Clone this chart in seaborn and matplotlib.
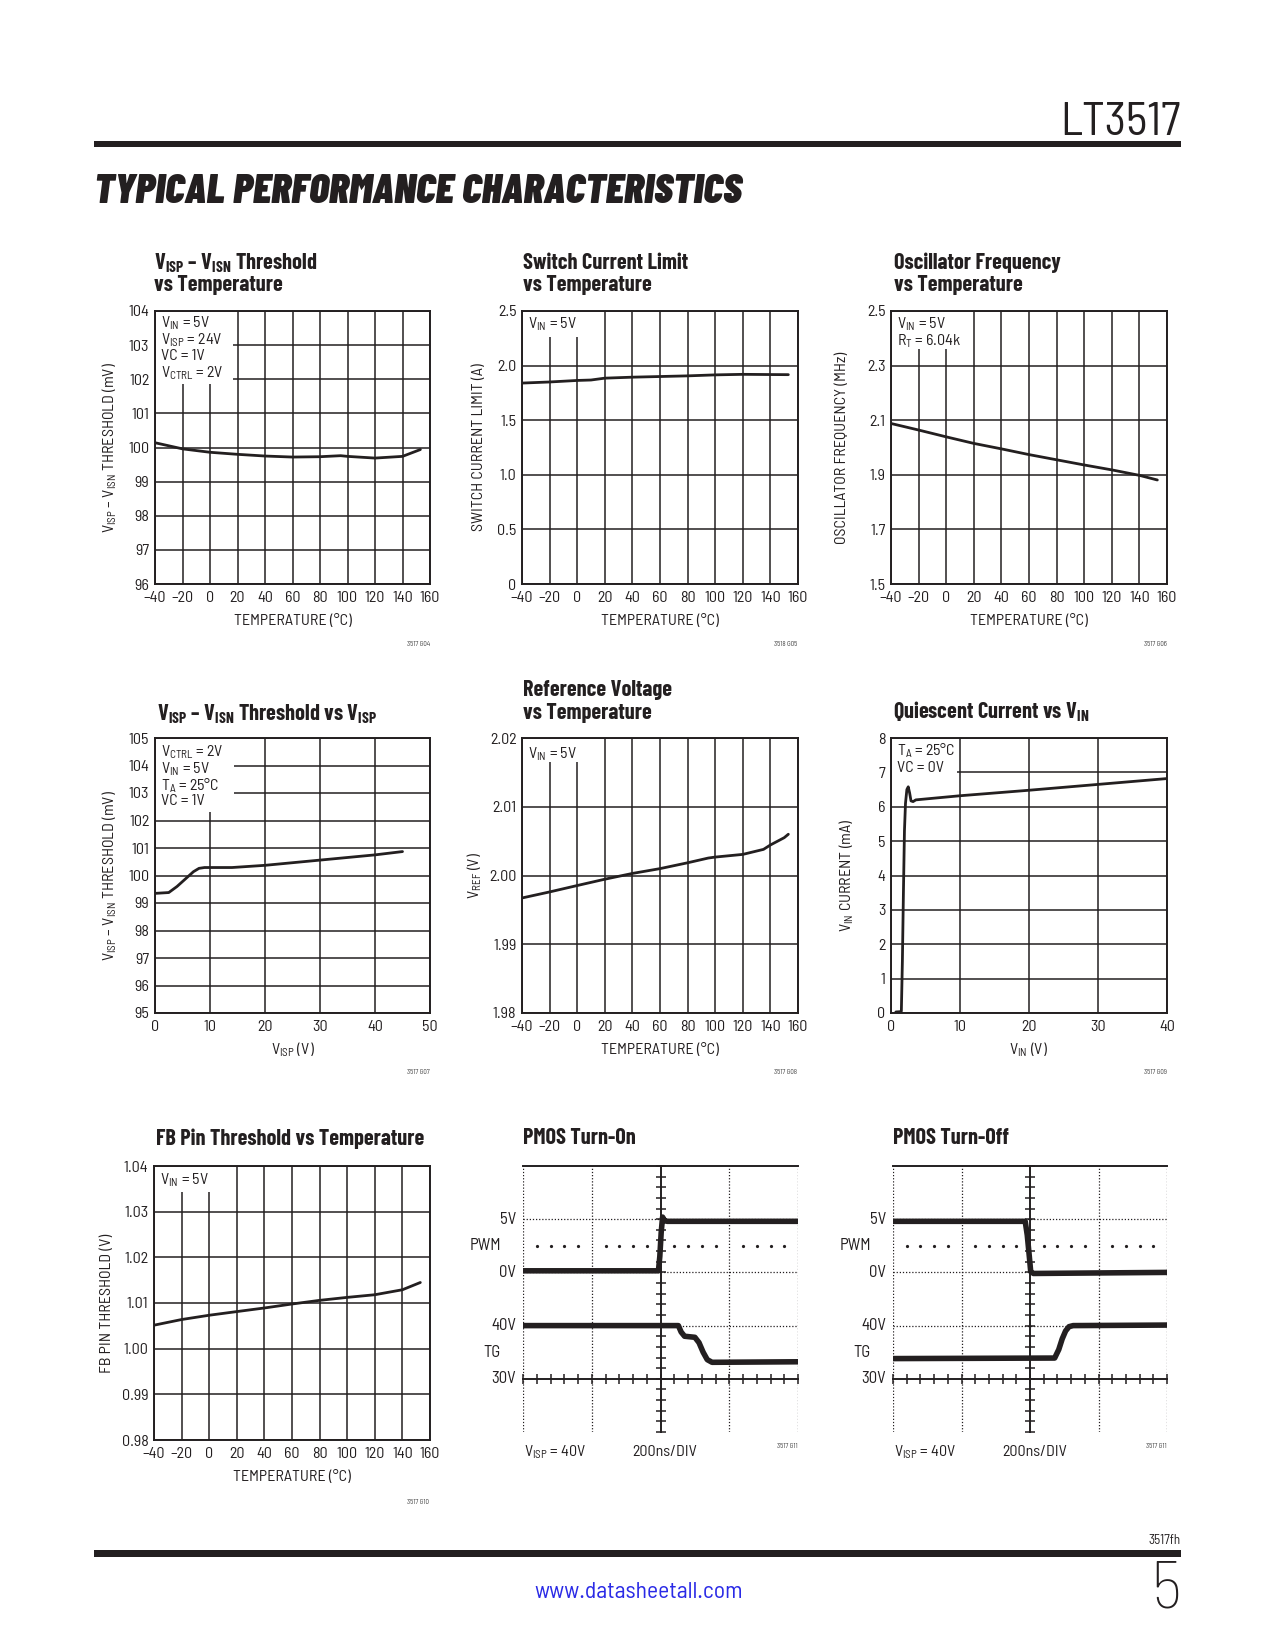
import numpy as np
import pandas as pd
import matplotlib
matplotlib.use("Agg")
import matplotlib.pyplot as plt
import seaborn as sns
from matplotlib import font_manager
from matplotlib.ticker import MultipleLocator
from matplotlib.patches import Rectangle

sns.set_style("white")
names = {f.name for f in font_manager.fontManager.ttflist}


def pick(*cands):
    for c in cands:
        if c in names:
            return c
    return "DejaVu Sans"


BODY = pick("Barlow Semi Condensed", "IBM Plex Sans Condensed", "Liberation Sans Narrow", "Liberation Sans")
BOLD = pick("Barlow Condensed", "Barlow Semi Condensed", "IBM Plex Sans Condensed", "Liberation Sans")
plt.rcParams["font.family"] = [BODY, "DejaVu Sans"]
plt.rcParams["mathtext.fontset"] = "custom"
plt.rcParams["mathtext.rm"] = BODY
plt.rcParams["mathtext.it"] = BODY + ":italic"
plt.rcParams["mathtext.bf"] = BOLD + ":bold"
plt.rcParams["axes.unicode_minus"] = False

# ---------------- data ----------------
temp_ticks = [-40, -20, 0, 20, 40, 60, 80, 100, 120, 140, 160]
temp_labels = ["\u201340", "\u201320", "0", "20", "40", "60", "80", "100", "120", "140", "160"]

# G04 threshold vs temperature
temp_thr = [-40, -20, 0, 20, 40, 60, 80, 95, 100, 120, 140, 153]
thr_vs_temp = [100.14, 99.96, 99.86, 99.80, 99.75, 99.72, 99.73, 99.76, 99.74, 99.69, 99.74, 99.94]
# G05 switch current limit
temp_ilim = [-40, -20, 0, 10, 20, 40, 60, 80, 100, 120, 140, 153]
ilim = [1.84, 1.85, 1.864, 1.868, 1.885, 1.894, 1.90, 1.906, 1.915, 1.92, 1.918, 1.917]
# G06 oscillator frequency
temp_osc = [-40, -20, 0, 20, 40, 60, 80, 100, 120, 140, 153]
osc = [2.088, 2.064, 2.039, 2.015, 1.995, 1.974, 1.955, 1.936, 1.918, 1.898, 1.881]
# G07 threshold vs VISP
visp = [0, 2.5, 4, 6, 7, 8, 9, 10, 14, 20, 30, 40, 45]
thr_vs_visp = [99.35, 99.38, 99.6, 99.96, 100.14, 100.26, 100.29, 100.29, 100.29, 100.37, 100.56, 100.75, 100.87]
# G08 reference voltage
temp_ref = [-40, -20, 0, 20, 40, 60, 80, 95, 100, 120, 135, 140, 150, 153]
vref = [1.99673, 1.99761, 1.99854, 1.99946, 2.0003, 2.0010, 2.00185, 2.00254, 2.00268, 2.00307,
        2.0038, 2.00444, 2.0055, 2.006]
# G09 quiescent current
vin = [0.7, 1.45, 1.5, 1.65, 1.8, 1.95, 2.1, 2.3, 2.5, 2.7, 2.9, 3.2, 3.6, 10, 20, 30, 40]
iq = [0.03, 0.04, 0.05, 1.5, 3.5, 5.3, 6.1, 6.5, 6.58, 6.4, 6.17, 6.15, 6.2, 6.32, 6.48, 6.65, 6.82]
# G10 FB pin threshold
temp_fb = [-40, -20, 0, 20, 40, 60, 80, 100, 120, 140, 153]
fb = [1.00514, 1.00638, 1.00732, 1.00812, 1.00891, 1.00978, 1.01058, 1.01123, 1.01181, 1.0129, 1.01449]

# scope traces (x in divisions of 200ns, y in screen divisions)
on_pwm_t = [0, 1.97, 1.99, 2.01, 2.03, 2.06, 2.1, 4.0]
on_pwm_v = [3.03, 3.03, 3.3, 3.75, 4.04, 3.97, 3.96, 3.96]
on_tg_t = [0, 2.26, 2.3, 2.35, 2.5, 2.56, 2.62, 2.68, 2.75, 4.0]
on_tg_v = [2.0, 2.0, 1.88, 1.8, 1.78, 1.68, 1.5, 1.36, 1.31, 1.32]
off_pwm_t = [0, 1.93, 1.96, 1.99, 2.01, 2.05, 4.0]
off_pwm_v = [3.96, 3.96, 3.7, 3.3, 3.02, 2.98, 3.0]
off_tg_t = [0, 2.36, 2.42, 2.47, 2.52, 2.57, 2.63, 4.0]
off_tg_v = [1.38, 1.39, 1.55, 1.75, 1.9, 1.98, 2.0, 2.01]
scope_labels = ["5V", "PWM", "0V", "40V", "TG", "30V"]
scope_levels = [4, 3.5, 3, 2, 1.5, 1]

# ---------------- figure ----------------
W, H = 1275, 1650
fig = plt.figure(figsize=(W / 100, H / 100), dpi=100)
fig.patch.set_facecolor("white")
INK = "#231f20"
FS = 11.5
TFS = 16


def add_ax(l, t, r, b):
    return fig.add_axes([l / W, 1 - b / H, (r - l) / W, (b - t) / H])


def ftext(x, y, s, **kw):
    return fig.text(x / W, 1 - y / H, s, **kw)


def style(ax, xlim, xticks, xtl, ylim, yticks, ytl, xlabel, ylabel, ylab_x):
    ax.set_xlim(*xlim)
    ax.set_ylim(*ylim)
    ax.set_xticks(xticks)
    ax.set_xticklabels(xtl)
    ax.set_yticks(yticks)
    ax.set_yticklabels(ytl)
    ax.grid(True, color=INK, lw=1.1)
    ax.set_axisbelow(True)
    for s in ax.spines.values():
        s.set_color(INK)
        s.set_linewidth(1.4)
        s.set_visible(True)
    ax.tick_params(axis="x", length=0, pad=5, labelsize=FS, colors=INK)
    ax.tick_params(axis="y", length=0, pad=4, labelsize=FS, colors=INK)
    ax.set_xlabel(xlabel, fontsize=FS, color=INK)
    ax.set_ylabel(ylabel, fontsize=FS, color=INK)
    ax.xaxis.label.set_va("center")
    ax.yaxis.label.set_va("center")
    h_px = ax.get_position().height * H
    ax.xaxis.set_label_coords(0.5, -37 / h_px)
    ax.yaxis.set_label_coords(ylab_x, 0.5)


def notes(ax, lines, offs, box_w, box_h):
    ax.add_patch(Rectangle((0.003, 1 - box_h), box_w, box_h - 0.004, transform=ax.transAxes,
                           facecolor="white", edgecolor="none", zorder=2))
    for s, dy in zip(lines, offs):
        ax.annotate(s, xy=(0, 1), xycoords="axes fraction", xytext=(6, -dy),
                    textcoords="offset pixels", ha="left", va="center", fontsize=FS,
                    color=INK, zorder=3)


def curve(ax, x, y):
    sns.lineplot(x=x, y=y, ax=ax, color=INK, lw=2.0, estimator=None, sort=False, zorder=4)


def title(x, ys, lines):
    for s, y in zip(lines, ys):
        ftext(x, y, s, fontsize=TFS, fontweight="bold", family=[BOLD, "DejaVu Sans"],
              ha="left", va="center", color=INK)


def code(x, y, s):
    ftext(x, y, s, fontsize=5, ha="right", va="center", color="#444444")


C1, C2, C3 = (155, 430), (522, 798), (891, 1167)
R1, R2 = (311, 584), (738, 1013)

TEMP_LBL = "TEMPERATURE (\u00b0C)"
THR_LBL = r"V$_{\rm ISP}$ " + "\u2013" + r" V$_{\rm ISN}$ THRESHOLD (mV)"

# G04
ax = add_ax(C1[0], R1[0], C1[1], R1[1])
curve(ax, temp_thr, thr_vs_temp)
style(ax, (-40, 160), temp_ticks, temp_labels, (96, 104), list(range(96, 105)),
      [str(v) for v in range(96, 105)], TEMP_LBL, THR_LBL, -0.164)
notes(ax, [r"V$_{\rm IN}$ = 5V", r"V$_{\rm ISP}$ = 24V", "VC = 1V", r"V$_{\rm CTRL}$ = 2V"],
      [12, 29, 45, 62], 0.28, 0.267)
title(154, [263, 285], [r"V$_{\mathbf{ISP}}$ " + "\u2013" + r" V$_{\mathbf{ISN}}$ Threshold", "vs Temperature"])
code(430, 644, "3517 G04")

# G05
ax = add_ax(C2[0], R1[0], C2[1], R1[1])
curve(ax, temp_ilim, ilim)
style(ax, (-40, 160), temp_ticks, temp_labels, (0, 2.5), [0, 0.5, 1.0, 1.5, 2.0, 2.5],
      ["0", "0.5", "1.0", "1.5", "2.0", "2.5"], TEMP_LBL, "SWITCH CURRENT LIMIT (A)", -0.156)
notes(ax, [r"V$_{\rm IN}$ = 5V"], [13], 0.215, 0.095)
title(523, [263, 285], ["Switch Current Limit", "vs Temperature"])
code(797, 645, "3518 G05")

# G06
ax = add_ax(C3[0], R1[0], C3[1], R1[1])
curve(ax, temp_osc, osc)
style(ax, (-40, 160), temp_ticks, temp_labels, (1.5, 2.5), [1.5, 1.7, 1.9, 2.1, 2.3, 2.5],
      ["1.5", "1.7", "1.9", "2.1", "2.3", "2.5"], TEMP_LBL, "OSCILLATOR FREQUENCY (MHz)", -0.178)
notes(ax, [r"V$_{\rm IN}$ = 5V", r"R$_{\rm T}$ = 6.04k"], [13, 30], 0.246, 0.139)
title(894, [263, 285], ["Oscillator Frequency", "vs Temperature"])
code(1167, 645, "3517 G06")

# G07
ax = add_ax(C1[0], R2[0], C1[1], R2[1])
curve(ax, visp, thr_vs_visp)
style(ax, (0, 50), [0, 10, 20, 30, 40, 50], ["0", "10", "20", "30", "40", "50"], (95, 105),
      list(range(95, 106)), [str(v) for v in range(95, 106)], r"V$_{\rm ISP}$ (V)", THR_LBL, -0.164)
notes(ax, [r"V$_{\rm CTRL}$ = 2V", r"V$_{\rm IN}$ = 5V", r"T$_{\rm A}$ = 25" + "\u00b0C", "VC = 1V"],
      [14, 31, 48, 63], 0.284, 0.27)
title(157, [714], [r"V$_{\mathbf{ISP}}$ " + "\u2013" + r" V$_{\mathbf{ISN}}$ Threshold vs V$_{\mathbf{ISP}}$"])
code(430, 1073, "3517 G07")

# G08
ax = add_ax(C2[0], R2[0], C2[1], R2[1])
curve(ax, temp_ref, vref)
style(ax, (-40, 160), temp_ticks, temp_labels, (1.98, 2.02), [1.98, 1.99, 2.00, 2.01, 2.02],
      ["1.98", "1.99", "2.00", "2.01", "2.02"], TEMP_LBL, r"V$_{\rm REF}$ (V)", -0.17)
notes(ax, [r"V$_{\rm IN}$ = 5V"], [16], 0.215, 0.087)
title(523, [690, 713], ["Reference Voltage", "vs Temperature"])
code(797, 1073, "3517 G08")

# G09
ax = add_ax(C3[0], R2[0], C3[1], R2[1])
curve(ax, vin, iq)
style(ax, (0, 40), [0, 10, 20, 30, 40], ["0", "10", "20", "30", "40"], (0, 8), list(range(0, 9)),
      [str(v) for v in range(0, 9)], r"V$_{\rm IN}$ (V)", r"V$_{\rm IN}$ CURRENT (mA)", -0.16)
notes(ax, [r"T$_{\rm A}$ = 25" + "\u00b0C", "VC = 0V"], [13, 30], 0.235, 0.14)
title(893, [712], [r"Quiescent Current vs V$_{\mathbf{IN}}$"])
code(1167, 1073, "3517 G09")

# G10
ax = add_ax(154, 1166, 430, 1440)
curve(ax, temp_fb, fb)
style(ax, (-40, 160), temp_ticks, temp_labels, (0.98, 1.04),
      [0.98, 0.99, 1.00, 1.01, 1.02, 1.03, 1.04],
      ["0.98", "0.99", "1.00", "1.01", "1.02", "1.03", "1.04"], TEMP_LBL, "FB PIN THRESHOLD (V)", -0.171)
notes(ax, [r"V$_{\rm IN}$ = 5V"], [14], 0.205, 0.095)
title(156, [1139], ["FB Pin Threshold vs Temperature"])
code(429, 1502, "3517 G10")


def scope(l, r, pwm_t, pwm_v, tg_t, tg_v, ttl):
    ax = add_ax(l, 1166, r, 1432)
    ax.set_xlim(0, 4)
    ax.set_ylim(0, 5)
    for v in [0, 1, 3, 4]:
        ax.axvline(v, color=INK, lw=0.9, ls=(0, (1, 1.5)), zorder=1)
    for h in [2, 3, 4]:
        ax.axhline(h, color=INK, lw=0.9, ls=(0, (1, 1.5)), zorder=1)
    xs = [x for x in np.arange(0.2, 4.0, 0.2) if abs(x - round(x)) > 0.05]
    ax.plot(xs, [3.5] * len(xs), ls="none", marker="o", ms=1.3, color=INK)
    ax.spines["left"].set_position(("data", 2))
    ax.spines["bottom"].set_position(("data", 1))
    ax.spines["right"].set_visible(False)
    for s in ["left", "bottom", "top"]:
        ax.spines[s].set_color(INK)
        ax.spines[s].set_linewidth(1.4)
        ax.spines[s].set_visible(True)
    ax.set_xticks(np.arange(0, 4.01, 1))
    ax.set_yticks(np.arange(0, 5.01, 1))
    ax.xaxis.set_minor_locator(MultipleLocator(0.2))
    ax.yaxis.set_minor_locator(MultipleLocator(0.2))
    ax.tick_params(which="both", direction="inout", length=7, width=1.1, colors=INK,
                   labelbottom=False, labelleft=False, bottom=True, left=True)
    ax.grid(False)
    sns.lineplot(x=pwm_t, y=pwm_v, ax=ax, color=INK, lw=4, estimator=None, sort=False, zorder=5)
    sns.lineplot(x=tg_t, y=tg_v, ax=ax, color=INK, lw=4, estimator=None, sort=False, zorder=5)
    for s, lv in zip(scope_labels, scope_levels):
        off = -22 if s in ("PWM", "TG") else -7
        ax.annotate(s, xy=(0, lv), xycoords=("axes fraction", "data"), xytext=(off, 0),
                    textcoords="offset pixels", ha="right", va="center", fontsize=12, color=INK)
    ftext(l + 1, 1452, r"V$_{\rm ISP}$ = 40V", fontsize=FS, ha="left", va="center", color=INK)
    ftext(l + 109, 1452, "200ns/DIV", fontsize=FS, ha="left", va="center", color=INK)
    code(r, 1447, "3517 G11")
    title(l, [1138], [ttl])


scope(523, 798, on_pwm_t, on_pwm_v, on_tg_t, on_tg_v, "PMOS Turn-On")
scope(893, 1167, off_pwm_t, off_pwm_v, off_tg_t, off_tg_v, "PMOS Turn-Off")

# page furniture
ftext(1181, 135, "LT3517", fontsize=33, fontweight="normal", ha="right", va="baseline", color=INK)
fig.patches.append(Rectangle((94 / W, 1 - 147 / H), 1087 / W, 6 / H, transform=fig.transFigure,
                             facecolor=INK, edgecolor="none"))
ftext(94, 203, "TYPICAL PERFORMANCE CHARACTERISTICS", fontsize=30.5, fontweight="black",
      style="italic", family=[BOLD, "DejaVu Sans"], ha="left", va="baseline", color=INK)
fig.patches.append(Rectangle((94 / W, 1 - 1557 / H), 1087 / W, 7 / H, transform=fig.transFigure,
                             facecolor=INK, edgecolor="none"))
ftext(1181, 1544, "3517fh", fontsize=9.5, ha="right", va="baseline", color=INK)
ftext(1181, 1608, "5", fontsize=48, fontweight="light", ha="right", va="baseline", color=INK)
ftext(639, 1598, "www.datasheetall.com", fontsize=17, ha="center", va="baseline", color="#2a2ae6")

fig.savefig("out.png", dpi=100, facecolor="white")
